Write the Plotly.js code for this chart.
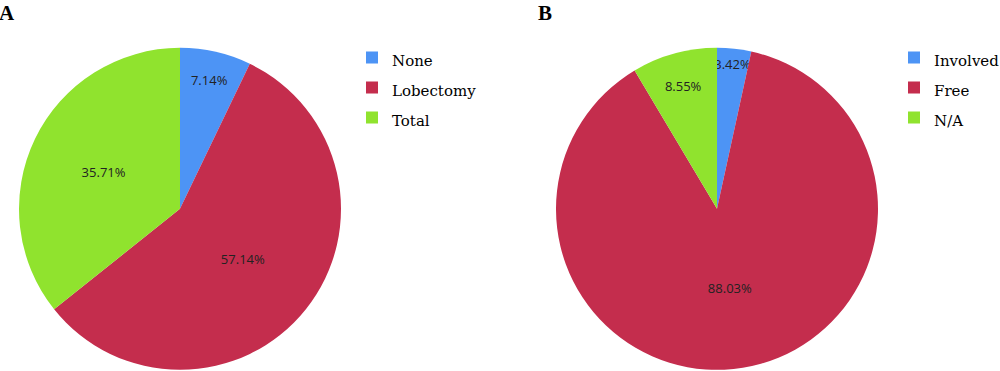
<!DOCTYPE html>
<html>
<head>
<meta charset="utf-8">
<script src="https://cdn.plot.ly/plotly-3.0.1.min.js"></script>
<style>html,body{margin:0;padding:0;background:#fff;}#chart{width:1000px;height:371px;}</style>
</head>
<body>
<div id="chart"></div>
<script>
// Panel A: resection
const labelsA = ["None", "Lobectomy", "Total"];
const valuesA = [7.14, 57.14, 35.71];
// Panel B: margin status
const labelsB = ["Involved", "Free", "N/A"];
const valuesB = [3.42, 88.03, 8.55];
const colors = ["#4d94f5", "#c42d4d", "#90e32e"];
const panelTitles = ["A", "B"];

const wrap = l => '<span style="font-size:15px">' + l + '</span>';

function pieTrace(labels, values, domainX, legendId) {
  return {
    type: "pie",
    labels: labels.map(wrap),
    values: values,
    sort: false,
    direction: "clockwise",
    rotation: 0,
    domain: {x: domainX, y: [0.003, 0.871]},
    marker: {colors: colors, line: {width: 0}},
    texttemplate: "%{value:.2f}%",
    textposition: "inside",
    insidetextorientation: "horizontal",
    textfont: {family: "Open Sans, sans-serif", size: 13, color: "#222"},
    hoverinfo: "label+percent",
    legend: legendId
  };
}

const data = [
  pieTrace(labelsA, valuesA, [0.019, 0.341], "legend"),
  pieTrace(labelsB, valuesB, [0.556, 0.878], "legend2")
];

const legendBase = {
  font: {family: "DejaVu Serif, serif", size: 20.8, color: "#000"},
  bgcolor: "rgba(0,0,0,0)",
  xanchor: "left", yanchor: "top",
  itemclick: false, itemdoubleclick: false
};

const layout = {
  width: 1000, height: 371,
  margin: {l: 0, r: 0, t: 0, b: 0, autoexpand: false},
  paper_bgcolor: "#fff",
  uniformtext: {minsize: 13, mode: "show"},
  legend: Object.assign({x: 0.352, y: 0.899}, legendBase),
  legend2: Object.assign({x: 0.894, y: 0.899}, legendBase),
  annotations: panelTitles.map((t, i) => ({
    text: "<b>" + t + "</b>",
    xref: "paper", yref: "paper",
    x: [-0.003, 0.536][i], y: 1.004,
    xanchor: "left", yanchor: "top",
    showarrow: false,
    font: {family: "Liberation Serif, serif", size: 21, color: "#000"}
  }))
};

Plotly.newPlot("chart", data, layout, {displayModeBar: false});
</script>
</body>
</html>
